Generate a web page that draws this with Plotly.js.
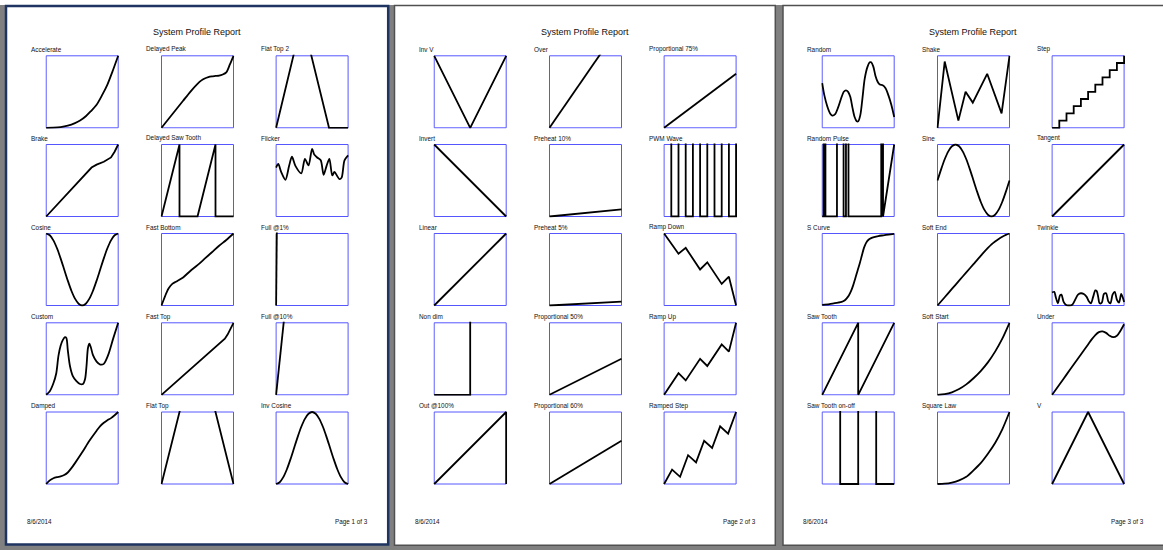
<!DOCTYPE html>
<html>
<head>
<meta charset="utf-8">
<script src="https://cdn.plot.ly/plotly-3.0.1.min.js"></script>
<style>html,body{margin:0;padding:0;overflow:hidden;background:#808080}#chart{width:1163px;height:550px}</style>
</head>
<body>
<div id="chart"></div>
<script>
// ---------------- DATA ----------------
const reportTitle = 'System Profile Report';
const reportDate = '8/6/2014';
const pageLabels = ['Page 1 of 3', 'Page 2 of 3', 'Page 3 of 3'];

// page 1 (column-major order)
const page1Names = ['Accelerate','Brake','Cosine','Custom','Damped',
                    'Delayed Peak','Delayed Saw Tooth','Fast Bottom','Fast Top','Flat Top',
                    'Flat Top 2','Flicker','Full @1%','Full @10%','Inv Cosine'];
const page2Names = ['Inv V','Invert','Linear','Non dim','Out @100%',
                    'Over','Preheat 10%','Preheat 5%','Proportional 50%','Proportional 60%',
                    'Proportional 75%','PWM Wave','Ramp Down','Ramp Up','Ramped Step'];
const page3Names = ['Random','Random Pulse','S Curve','Saw Tooth','Saw Tooth on-off',
                    'Shake','Sine','Soft End','Soft Start','Square Law',
                    'Step','Tangent','Twinkle','Under','V'];

const accelerateX = [0,10,20,30,40,47,55,62,70,78,85,92,100];
const accelerateY = [0,0.2,1,3,6.5,10,16,23,32,46,60,78,100];
const brakeX = [0,10,20,30,40,50,58,63,70,80,90,95,100];
const brakeY = [0,10.8,21.6,32.4,43,54,63,68,72,76,82,90,100];
const cosineX = [0,5,10,15,20,25,30,35,40,45,50,55,60,65,70,75,80,85,90,95,100];
const cosineY = [100,97.5,90.5,79.5,65.5,50,34.5,20.5,9.5,2.5,0,2.5,9.5,20.5,34.5,50,65.5,79.5,90.5,97.5,100];
const customX = [0,5,10,14,17,20,23,26,28,30,33,37,42,47,51,54,56,58,60,62,65,70,75,80,86,93,100];
const customY = [0,5,16,30,54,68,76,80,79,62,40,26,19,15,15,22,40,65,71,66,55,46,42,43,55,78,100];
const dampedX = [0,5,10,15,20,25,30,35,40,50,60,70,75,80,85,90,95,100];
const dampedY = [0,5,8,9.5,10.5,12.5,16,22,29,44,60,74,80.5,85,88.5,91.5,95.5,100];
const delayedPeakX = [0,10,20,30,40,50,55,60,65,70,75,80,85,90,95,100];
const delayedPeakY = [0,12.5,25,37.5,50,61,65.5,68.5,70.5,71.5,72,72.5,74,77,88,100];
const delayedSawX = [0,25,25,50,75,75,100];
const delayedSawY = [0,100,0,0,100,0,0];
const fastBottomX = [0,3,7,10,15,20,30,40,50,60,70,80,90,100];
const fastBottomY = [0,8,18,24,30,33,39,48,56,65,74,83,91,100];
const fastTopX = [0,10,20,30,40,50,60,70,80,88,92,96,100];
const fastTopY = [0,8.9,17.7,26.6,35.4,44.3,53.2,62,70.9,78,84,92,100];
const flatTopX = [0,30,70,100];
const flatTopY = [0,120,120,0];
const flatTop2X = [0,28.8,44.1,73.5,100];
const flatTop2Y = [0,120,120,0,0];
const flickerX = [0,3,7,13,18,22,27,35,40,45,50,53,57,62,66,70,74,78,81,85,88,91,95,100];
const flickerY = [68,73,62,51,70,83,70,60,80,71,94,86,82,78,58,70,80,57,62,56,52,54,78,85];
const full1X = [0,1.2];
const full1Y = [0,120];
const full10X = [0,12.6];
const full10Y = [0,120];
const invCosineX = [0,5,10,15,20,25,30,35,40,45,50,55,60,65,70,75,80,85,90,95,100];
const invCosineY = [0,2.5,9.5,20.5,34.5,50,65.5,79.5,90.5,97.5,100,97.5,90.5,79.5,65.5,50,34.5,20.5,9.5,2.5,0];

const invVX = [0,50,100];
const invVY = [100,0,100];
const invertX = [0,100];
const invertY = [100,0];
const linearX = [0,100];
const linearY = [0,100];
const nonDimX = [0,50,50,100];
const nonDimY = [0,0,120,120];
const out100X = [0,100,100];
const out100Y = [0,100,0];
const overX = [0,80];
const overY = [0,116];
const preheat10X = [0,100];
const preheat10Y = [0,10];
const preheat5X = [0,100];
const preheat5Y = [0,5.5];
const prop50X = [0,100];
const prop50Y = [0,50];
const prop60X = [0,100];
const prop60Y = [0,60];
const prop75X = [0,100];
const prop75Y = [0,75];
const pwmX = [0,10,10,20,20,30,30,40,40,50,50,60,60,70,70,80,80,90,90,100,100];
const pwmY = [120,120,0,0,120,120,0,0,120,120,0,0,120,120,0,0,120,120,0,0,120];
const rampDownX = [0,20,30,50,60,80,90,100];
const rampDownY = [100,72,80,50,60,30,40,0];
const rampUpX = [0,20,30,50,60,80,90,100];
const rampUpY = [0,30,20,50,40,70,60,100];
const rampedStepX = [0,11.1,22.2,33.3,44.4,55.6,66.7,77.8,88.9,100];
const rampedStepY = [0,20,10,40,30,60,50,80,70,100];

const randomX = [0,3,7,11,14,18,22,26,30,33,36,39,42,45,48,50,53,56,59,63,66,68,71,74,77,80,84,88,92,96,100];
const randomY = [62,45,30,20,17,19,28,40,50,52,50,43,28,15,9,9,18,42,68,85,91,91,85,72,64,60,59,55,45,32,15];
const randomPulseX = [0,2,2,4.5,4.5,20.5,20.5,29.7,29.7,33,33,36.5,36.5,82,82,84.5,84.5,100];
const randomPulseY = [0,0,120,120,0,0,120,120,0,0,120,120,0,0,120,120,0,100];
const sCurveX = [0,10,16,22,27,31,34,37,40,43,46,49,52,55,58,61,64,68,72,78,85,92,100];
const sCurveY = [1,2,3,4,5,7,10,14,20,28,38,48,58,69,80,87,91,93.5,95,96.5,97.5,98.5,99.5];
const sawToothX = [0,50,50,100];
const sawToothY = [0,100,0,100];
const sawOnOffX = [0,25,25,50,50,75,75,100];
const sawOnOffY = [120,120,0,0,120,120,0,0];
const shakeX = [0,10,29,39,49,69,89,100];
const shakeY = [0,92,10,50,35,75,20,100];
const sineX = [0,5,10,15,20,25,30,35,40,45,50,55,60,65,70,75,80,85,90,95,100];
const sineY = [50,65.5,79.5,90.5,97.5,100,97.5,90.5,79.5,65.5,50,34.5,20.5,9.5,2.5,0,2.5,9.5,20.5,34.5,50];
const softEndX = [0,10,20,30,40,50,60,70,75,80,85,90,95,100];
const softEndY = [0,11.5,23,34.5,46,57.5,69,80,85,89,92.5,95.5,98,100];
const softStartX = [0,10,20,30,40,50,60,70,80,90,100];
const softStartY = [0,1,3.5,8,14.5,23,33,45,60,78,100];
const squareLawX = [0,10,20,30,40,50,60,70,80,90,100];
const squareLawY = [0,0.4,2,5,10,19,29,42,57,76,100];
const stepX = [0,10,10,20,20,30,30,40,40,50,50,60,60,70,70,80,80,90,90,100,100];
const stepY = [0,0,10,10,20,20,30,30,40,40,50,50,60,60,70,70,80,80,90,90,100];
const tangentX = [0,100];
const tangentY = [0,100];
const twinkleX = [0,3,5,8,11,13,16,19,23,28,32,36,40,44,48,51,54,57,60,62,64,66,69,72,75,78,81,84,87,90,93,96,100];
const twinkleY = [18,19,12,3,14,15,5,1,0,1,8,15,17,16,12,6,3,12,21,20,12,3,4,16,17,6,3,15,19,8,4,16,5];
const underX = [0,10,20,30,40,50,55,60,65,70,75,80,85,90,95,100];
const underY = [0,14,28,42,56,70,77,83,87,88,86,82,80,82,89,98];
const vX = [0,50,100];
const vY = [0,100,0];

// ---------------- assemble ----------------
const S = 'spline', L = 'linear';
const profiles = [
  [accelerateX,accelerateY,S],[brakeX,brakeY,L],[cosineX,cosineY,S],[customX,customY,S],[dampedX,dampedY,S],
  [delayedPeakX,delayedPeakY,S],[delayedSawX,delayedSawY,L],[fastBottomX,fastBottomY,S],[fastTopX,fastTopY,L],[flatTopX,flatTopY,L],
  [flatTop2X,flatTop2Y,L],[flickerX,flickerY,S],[full1X,full1Y,L],[full10X,full10Y,L],[invCosineX,invCosineY,S],
  [invVX,invVY,L],[invertX,invertY,L],[linearX,linearY,L],[nonDimX,nonDimY,L],[out100X,out100Y,L],
  [overX,overY,L],[preheat10X,preheat10Y,L],[preheat5X,preheat5Y,L],[prop50X,prop50Y,L],[prop60X,prop60Y,L],
  [prop75X,prop75Y,L],[pwmX,pwmY,L],[rampDownX,rampDownY,L],[rampUpX,rampUpY,L],[rampedStepX,rampedStepY,L],
  [randomX,randomY,S],[randomPulseX,randomPulseY,L],[sCurveX,sCurveY,S],[sawToothX,sawToothY,L],[sawOnOffX,sawOnOffY,L],
  [shakeX,shakeY,L],[sineX,sineY,S],[softEndX,softEndY,S],[softStartX,softStartY,S],[squareLawX,squareLawY,S],
  [stepX,stepY,L],[tangentX,tangentY,L],[twinkleX,twinkleY,S],[underX,underY,S],[vX,vY,L]
];
const allNames = page1Names.concat(page2Names, page3Names);

// ---------------- layout geometry (pixels) ----------------
const W = 1163, H = 550;
const PAGE_DX = [0, 388, 776];
const COL_L = [45.7, 161, 275.6];
const COL_TITLE = [29.5, 145, 259.7];
const ROW_T = [55.3, 144, 233, 322.3, 411.5];
const BOX = 73;
const FONT = 'Liberation Sans, Arial, sans-serif';
const BLUE = '#5656ff';

const px = v => v / W;
const py = v => 1 - v / H;

const traces = [], shapes = [], annotations = [];
const layout = {
  width: W, height: H, margin: {l:0, r:0, t:0, b:0},
  paper_bgcolor: '#808080', plot_bgcolor: 'rgba(0,0,0,0)',
  showlegend: false, shapes: shapes, annotations: annotations
};

// pages
shapes.push({type:'rect', xref:'paper', yref:'paper', x0:0, x1:1, y0:py(5), y1:1, fillcolor:'#ffffff', line:{width:0}, layer:'below'});
shapes.push({type:'rect', xref:'paper', yref:'paper', x0:px(6), x1:px(388.2), y0:py(544.6), y1:py(6), fillcolor:'#ffffff', line:{color:'#1f3461', width:2.5}, layer:'below'});
shapes.push({type:'rect', xref:'paper', yref:'paper', x0:px(394.5), x1:px(775.3), y0:py(545.3), y1:py(5.5), fillcolor:'#ffffff', line:{color:'#505050', width:1.5}, layer:'below'});
shapes.push({type:'rect', xref:'paper', yref:'paper', x0:px(783), x1:px(1175), y0:py(545.3), y1:py(5.5), fillcolor:'#ffffff', line:{color:'#505050', width:1.5}, layer:'below'});

for (let p = 0; p < 3; p++) {
  const dx = PAGE_DX[p];
  annotations.push({xref:'paper', yref:'paper', x:px(197 + dx), y:py(31.7), xanchor:'center', yanchor:'middle',
    text: reportTitle, showarrow:false, borderpad:0, font:{family:FONT, size:9, color:'#111'}});
  annotations.push({xref:'paper', yref:'paper', x:px(26 + dx), y:py(521.7), xanchor:'left', yanchor:'middle',
    text: reportDate, showarrow:false, borderpad:0, font:{family:FONT, size:6.3, color:'#111'}});
  annotations.push({xref:'paper', yref:'paper', x:px(368.5 + dx), y:py(521.7), xanchor:'right', yanchor:'middle',
    text: pageLabels[p], showarrow:false, borderpad:0, font:{family:FONT, size:6.3, color:'#111'}});

  for (let c = 0; c < 3; c++) {
    for (let r = 0; r < 5; r++) {
      const k = p * 15 + c * 5 + r;
      const n = k + 1;
      const xa = n === 1 ? 'x' : 'x' + n;
      const ya = n === 1 ? 'y' : 'y' + n;
      const left = COL_L[c] + dx, top = ROW_T[r];
      const padU = 100 / (BOX - 1);
      layout['xaxis' + (n === 1 ? '' : n)] = {
        domain:[px(left - 0.5), px(left + BOX + 0.5)], range:[-padU, 100 + padU],
        visible:false, fixedrange:true, anchor: ya
      };
      layout['yaxis' + (n === 1 ? '' : n)] = {
        domain:[py(top + BOX + 0.5), py(top - 0.5)], range:[-padU, 100 + padU],
        visible:false, fixedrange:true, anchor: xa
      };
      shapes.push({type:'rect', xref:xa, yref:ya, x0:0, x1:100, y0:0, y1:100,
        line:{color:BLUE, width:1}, layer:'below'});
      const prof = profiles[k];
      traces.push({type:'scatter', mode:'lines', x:prof[0], y:prof[1], xaxis:xa, yaxis:ya,
        line:{color:'#000000', width:1.8, shape:prof[2], smoothing:0.8}, hoverinfo:'skip'});
      annotations.push({xref:'paper', yref:'paper', x:px(COL_TITLE[c] + dx), y:py(top - 5.8),
        xanchor:'left', yanchor:'middle', text: allNames[k], showarrow:false, borderpad:0,
        font:{family:FONT, size:6.4, color:'#111'}});
    }
  }
}

Plotly.newPlot('chart', traces, layout, {staticPlot:true, displayModeBar:false});
</script>
</body>
</html>
